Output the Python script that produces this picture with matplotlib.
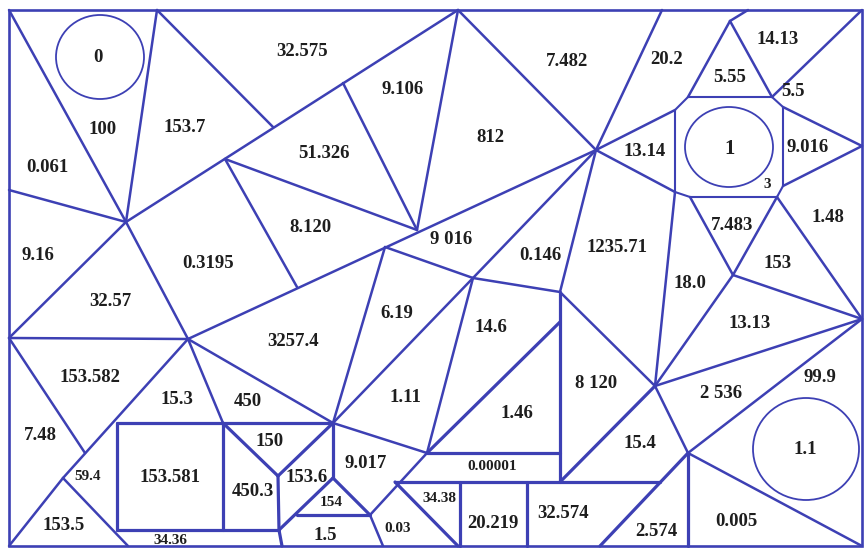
import matplotlib.pyplot as plt
from matplotlib.patches import Ellipse, Polygon

# numbers written in the cells
labels = ["0", "100", "0.061", "153.7", "32.575", "9.106", "51.326", "8.120",
          "812", "7.482", "20.2", "14.13", "5.55", "5.5", "13.14", "1", "9.016",
          "3", "7.483", "1.48", "153", "18.0", "13.13", "1235.71", "0.146",
          "9 016", "9.16", "0.3195", "32.57", "3257.4", "6.19", "14.6",
          "153.582", "15.3", "450", "1.11", "1.46", "8 120", "2 536", "99.9",
          "1.1", "7.48", "150", "15.4", "59.4", "153.581", "450.3", "153.6",
          "9.017", "0.00001", "154", "34.38", "20.219", "32.574", "2.574",
          "0.005", "153.5", "34.36", "1.5", "0.03"]
small = ["0.00001", "34.38", "59.4", "154", "34.36", "3", "0.03"]

# label anchor positions (image pixels)
label_xy = [(98, 57), (103, 130), (47, 167), (185, 127), (302, 52), (403, 89),
            (324, 153), (310, 227), (490, 137), (567, 61), (667, 60), (778, 40),
            (730, 77), (793, 92), (645, 151), (730, 149), (808, 148), (767, 185),
            (732, 225), (828, 218), (778, 263), (690, 283), (750, 323),
            (617, 248), (540, 255), (451, 240), (38, 255), (208, 263), (110, 302),
            (293, 342), (397, 314), (491, 328), (90, 378), (177, 400), (248, 401),
            (405, 398), (517, 414), (596, 383), (721, 394), (820, 377),
            (805, 449), (40, 435), (270, 441), (640, 444), (88, 476), (170, 477),
            (253, 492), (307, 477), (366, 463), (492, 466), (331, 503),
            (439, 499), (493, 523), (563, 514), (656, 531), (736, 521),
            (64, 525), (170, 541), (325, 536), (398, 528)]

# vertices
pts = {
    "TL": (9, 10), "TR": (862, 10), "BL": (9, 546), "BR": (862, 546),
    "B": (157, 10), "C": (126, 222), "D": (9, 190), "E": (273, 127),
    "F": (458, 10), "G": (343, 83), "H": (417, 230), "I": (225, 159),
    "J": (385, 247), "K": (297, 287), "L": (9, 338), "P": (188, 339),
    "Q": (596, 150), "V": (473, 278), "U": (333, 423), "W": (427, 453),
    "X": (85, 453), "Y": (63, 478), "R": (655, 386), "S": (862, 319),
    "T": (688, 453), "M": (560, 292), "N": (560, 322), "F2": (662, 10),
    "sq1": (117, 423), "sq2": (223, 423), "sq3": (223, 530), "sq4": (117, 530),
    "b1": (128, 546), "c1": (278, 476), "c2": (279, 530), "c3": (282, 546),
    "u2": (333, 478), "t1": (297, 515), "t2": (370, 515), "t3": (383, 546),
    "w2": (560, 453), "r1": (395, 482), "r2": (560, 482), "r3": (660, 482),
    "d1": (458, 546), "v1": (460, 482), "v2": (460, 546), "v3": (527, 482),
    "v4": (527, 546), "s1": (600, 546), "s2": (688, 546),
    "o1": (675, 110), "o2": (688, 97), "o3": (772, 97), "o4": (783, 107),
    "o5": (783, 186), "o6": (777, 197), "o7": (690, 197), "o8": (675, 192),
    "At": (730, 21), "Ar": (862, 146), "Ab": (733, 275), "t5": (748, 10),
}

edges = [
    ("TL", "C"), ("B", "C"), ("D", "C"), ("C", "F"), ("B", "E"), ("G", "H"),
    ("F", "H"), ("I", "H"), ("I", "K"), ("P", "Q"), ("F", "Q"), ("F2", "Q"),
    ("C", "L"), ("C", "P"), ("L", "P"), ("L", "X"), ("P", "Y"), ("Y", "BL"),
    ("Y", "b1"), ("P", "sq2"), ("P", "U"), ("J", "U"), ("U", "V"), ("J", "V"),
    ("U", "W"), ("W", "t2"), ("V", "W"), ("V", "M"), ("t2", "t3"),
    ("Q", "M"), ("M", "R"), ("R", "T"), ("R", "S"), ("T", "S"),
    ("T", "BR"), ("R", "o8"), ("R", "Ab"), ("Ab", "S"), ("o6", "S"),
    ("Q", "o1"), ("Q", "o8"), ("V", "Q"), ("At", "o2"), ("At", "o3"),
    ("At", "t5"), ("o3", "TR"), ("Ar", "o4"), ("Ar", "o5"), ("Ab", "o7"),
    ("Ab", "o6"),
]
# heavier edges of the boxes in the lower part
heavy = [
    ("sq1", "U"), ("sq1", "sq4"), ("sq4", "c2"), ("sq2", "sq3"),
    ("sq2", "c1"), ("c1", "c2"), ("c2", "c3"), ("U", "c1"), ("U", "u2"),
    ("u2", "c2"), ("u2", "t2"), ("t1", "t2"), ("W", "N"), ("M", "r2"),
    ("W", "w2"), ("r1", "r3"), ("r1", "d1"), ("v1", "v2"), ("v3", "v4"),
    ("T", "s1"), ("T", "s2"), ("R", "r2"),
]
octagon = ["o1", "o2", "o3", "o4", "o5", "o6", "o7", "o8"]

# circles: centre x, centre y, width, height
circles = [(100, 57, 88, 84), (729, 147, 88, 80), (806, 449, 106, 102)]

blue = "#3d40b4"

fig = plt.figure(figsize=(8.64, 5.48), dpi=100)
ax = fig.add_axes([0, 0, 1, 1])
ax.set_xlim(0, 864)
ax.set_ylim(548, 0)
ax.axis("off")

# outer frame
ax.add_patch(Polygon([pts["TL"], pts["TR"], pts["BR"], pts["BL"]], closed=True,
                     fill=False, edgecolor=blue, linewidth=1.9))

for a, b in edges:
    x0, y0 = pts[a]
    x1, y1 = pts[b]
    ax.plot([x0, x1], [y0, y1], color=blue, linewidth=1.8,
            solid_capstyle="round")

for a, b in heavy:
    x0, y0 = pts[a]
    x1, y1 = pts[b]
    ax.plot([x0, x1], [y0, y1], color=blue, linewidth=2.3,
            solid_capstyle="round")

ax.add_patch(Polygon([pts[k] for k in octagon], closed=True, fill=False,
                     edgecolor=blue, linewidth=1.5))

for cx, cy, w, h in circles:
    ax.add_patch(Ellipse((cx, cy), w, h, fill=False, edgecolor=blue,
                         linewidth=1.3))

for text, (x, y) in zip(labels, label_xy):
    size = 11 if text in small else 13.5
    if text == "1":
        size = 15
    ax.text(x, y, text, ha="center", va="center", fontsize=size,
            fontweight="bold", family="Liberation Serif", color="#1e1e1e")

fig.savefig("out.png", dpi=100)
